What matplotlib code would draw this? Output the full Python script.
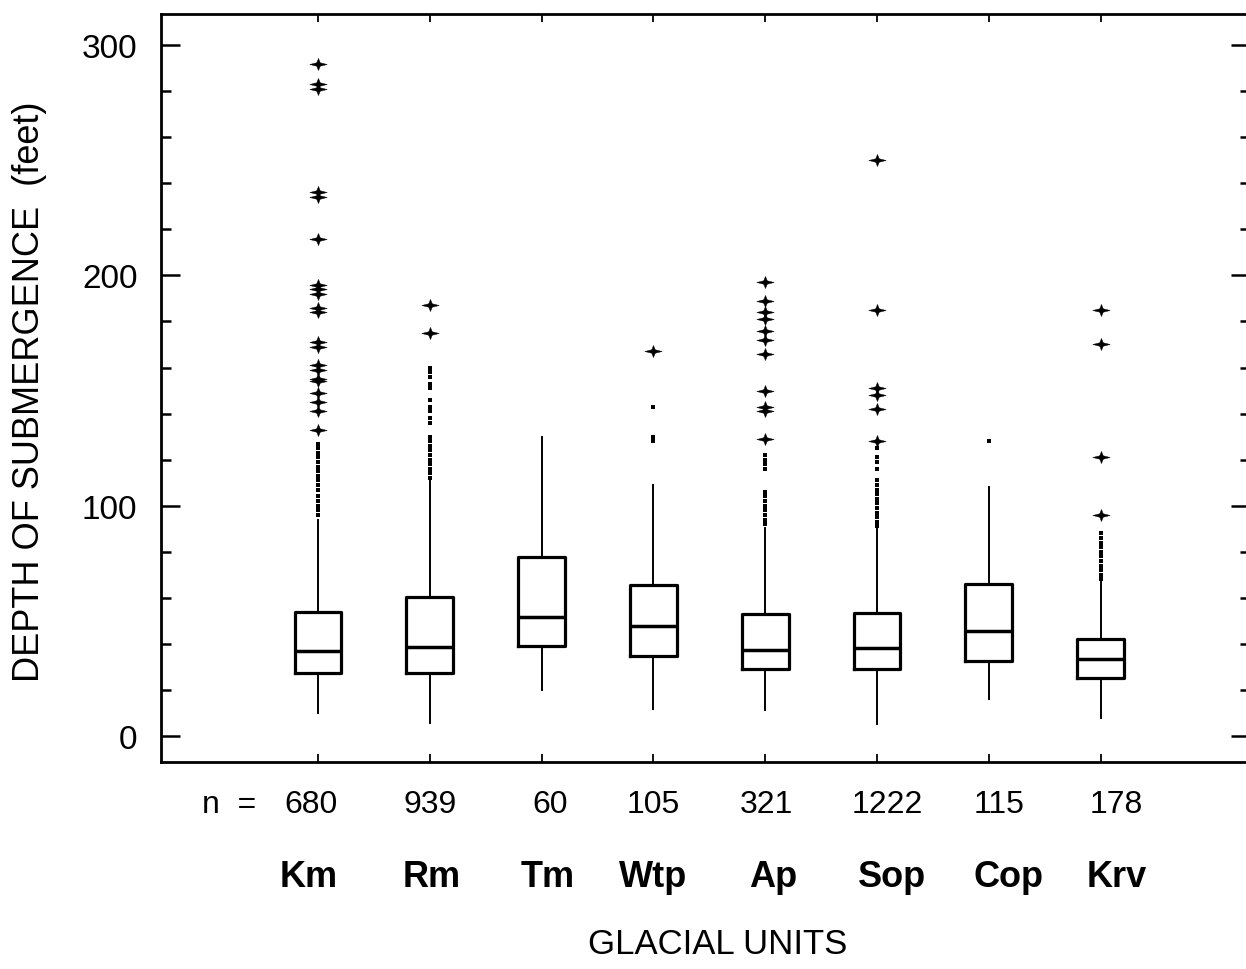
import matplotlib
matplotlib.use("Agg")
import matplotlib.pyplot as plt
from matplotlib.path import Path
import numpy as np

plt.rcParams['font.family'] = ['Liberation Sans', 'DejaVu Sans']

units = ["Km", "Rm", "Tm", "Wtp", "Ap", "Sop", "Cop", "Krv"]
n_counts = ["680", "939", "60", "105", "321", "1222", "115", "178"]

q1 = [27.4, 27.4, 39.1, 34.7, 29.0, 29.0, 32.7, 25.2]
med = [37.0, 38.6, 51.8, 47.8, 37.3, 38.2, 45.7, 33.4]
q3 = [54.0, 60.4, 77.8, 65.5, 53.0, 53.4, 66.0, 42.0]
whislo = [10.0, 5.6, 20.0, 11.7, 11.3, 5.0, 16.0, 7.8]
whishi = [94.0, 110.7, 129.8, 109.0, 90.3, 90.0, 108.0, 67.0]

near_out = [
    [96, 98, 100, 102, 104, 107, 109, 111, 113, 115, 117, 119, 121, 123, 125, 127],
    [112, 114, 116, 118, 120, 122, 124, 126, 128, 130, 136, 138, 141, 143, 146, 151, 153, 156, 158, 160],
    [],
    [128, 130, 143],
    [92, 94, 96, 98, 100, 102, 104, 106, 116, 118, 120, 122],
    [91, 93, 95, 97, 99, 101, 103, 105, 107, 109, 111, 116, 119, 121, 125],
    [128],
    [68, 70, 72, 74, 76, 78, 80, 82, 84, 86, 88],
]
far_out = [
    [292, 283, 281, 236, 234, 216, 196, 194, 192, 186, 184, 171, 169, 161, 159, 155, 154, 149, 145, 141, 133],
    [187, 175],
    [],
    [167],
    [197, 189, 184, 181, 176, 172, 166, 150, 143, 141, 129],
    [250, 185, 151, 148, 142, 128],
    [],
    [185, 170, 121, 96],
]

# layout: horizontal nudges (in category units) of the hand-placed labels
n_shift = [-0.06, 0.0, 0.08, 0.0, 0.01, 0.09, 0.09, 0.14]
name_shift = [-0.08, 0.02, 0.05, 0.0, 0.07, 0.13, 0.18, 0.14]

W, H = 1246, 970
fig = plt.figure(figsize=(W / 100, H / 100), dpi=100)
L, R, T, B = 161, 1250, 15, 763
ax = fig.add_axes([L / W, 1 - B / H, (R - L) / W, (B - T) / H])

positions = np.arange(1, len(units) + 1)
stats = []
for i in range(len(units)):
    stats.append(dict(med=med[i], q1=q1[i], q3=q3[i], whislo=whislo[i],
                      whishi=whishi[i], fliers=[], label=units[i]))

ax.bxp(stats, positions=positions, widths=0.42, showfliers=False, showcaps=False,
       boxprops=dict(color='black', linewidth=2.3),
       medianprops=dict(color='black', linewidth=2.5),
       whiskerprops=dict(color='black', linewidth=1.4))

star = Path([(-1, 0), (-0.2, 0.2), (0, 0.7), (0.2, 0.2), (1, 0),
             (0.2, -0.2), (0, -0.7), (-0.2, -0.2), (-1, 0)],
            [Path.MOVETO] + [Path.LINETO] * 7 + [Path.CLOSEPOLY])

for i, p in enumerate(positions):
    if near_out[i]:
        ax.plot([p] * len(near_out[i]), near_out[i], linestyle='none', marker='s',
                markersize=3.3, color='black', markeredgewidth=0)
    if far_out[i]:
        ax.plot([p] * len(far_out[i]), far_out[i], linestyle='none', marker=star,
                markersize=12.5, color='black', markeredgewidth=0.3)

ax.set_xlim(1 - (318 - L) / 111.8, 1 + (R - 318) / 111.8)
ax.set_ylim(-(B - 737) / 2.303, (737 - T) / 2.303)

ax.set_yticks([0, 100, 200, 300])
ax.set_yticklabels(["0", "100", "200", "300"], fontsize=24)
ax.set_yticks(np.arange(20, 300, 20), minor=True)
ax.tick_params(axis='y', which='major', direction='in', length=14, width=1.8,
               right=True, pad=17)
ax.tick_params(axis='y', which='minor', direction='in', length=7.5, width=1.8,
               right=True)
ax.set_xticks(positions)
ax.set_xticklabels([])
ax.tick_params(axis='x', which='major', direction='in', length=6, width=1.3, top=True)

for s in ['left', 'top', 'bottom', 'right']:
    ax.spines[s].set_linewidth(2.0)

tr = ax.get_xaxis_transform()
for i, p in enumerate(positions):
    ax.text(p + n_shift[i], -42 / (B - T), n_counts[i], transform=tr, ha='center',
            va='center', fontsize=23)
    ax.text(p + name_shift[i], -115 / (B - T), units[i], transform=tr, ha='center',
            va='center', fontsize=26, fontweight='bold')
fig.text(229 / W, 1 - 805 / H, "n  =", ha='center', va='center', fontsize=23)
fig.text(718 / W, 1 - 945 / H, "GLACIAL UNITS", ha='center', va='center', fontsize=25)
fig.text(30 / W, 1 - 392 / H, "DEPTH OF SUBMERGENCE  (feet)", rotation=90,
         ha='center', va='center', fontsize=26)

fig.savefig("out.png", dpi=100, facecolor='white')
